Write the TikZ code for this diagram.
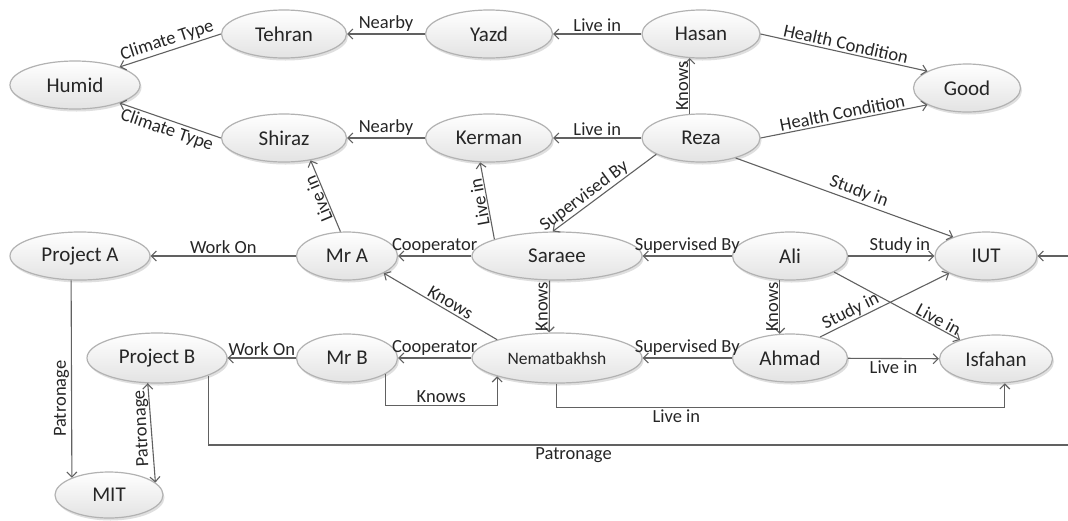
\documentclass[tikz,border=0pt]{standalone}
\usepackage{fontspec}
\setmainfont{Carlito}
\usetikzlibrary{calc,shapes.geometric,shadows,arrows.meta}

\begin{document}
\begin{tikzpicture}[x=1pt,y=-1pt,>={Straight Barb[length=5pt,width=10pt]},
                ent node/.style={ellipse,draw=gray!60,line width=1.2pt,top color=white,bottom color=gray!22,
                  drop shadow={shadow xshift=1.5pt,shadow yshift=-2.5pt,opacity=0.25},
                  text=black!85,font=\fontsize{21}{24}\selectfont,inner sep=0pt,minimum height=48pt},
                link/.style={->,draw=black!62,line width=1.1pt},
                lab/.style={font=\fontsize{18.5}{21}\selectfont,text=black!85,inner sep=2pt}]
	\clip (0,0) rectangle (1068,520);
	\fill[white] (0,0) rectangle (1068,520);

	\node[ent node,minimum width=130pt] (1) at (75,85) {Humid};
	\node[ent node,minimum width=125pt] (2) at (284,34) {Tehran};
	\node[ent node,minimum width=127pt] (3) at (489,34) {Yazd};
	\node[ent node,minimum width=118pt] (4) at (701,34) {Hasan};
	\node[ent node,minimum width=107pt] (5) at (967,88) {Good};
	\node[ent node,minimum width=125pt] (6) at (284,138) {Shiraz};
	\node[ent node,minimum width=127pt] (7) at (489,138) {Kerman};
	\node[ent node,minimum width=118pt] (8) at (701,138) {Reza};
	\node[ent node,minimum width=140pt] (9) at (80,256) {Project A};
	\node[ent node,minimum width=101pt] (10) at (347,256) {Mr A};
	\node[ent node,minimum width=170pt] (11) at (557,256) {Saraee};
	\node[ent node,minimum width=115pt] (12) at (790,256) {Ali};
	\node[ent node,minimum width=102pt] (13) at (986,256) {IUT};
	\node[ent node,minimum width=140pt,minimum height=50pt] (14) at (157,358) {Project B};
	\node[ent node,minimum width=101pt] (15) at (347,358) {Mr B};
	\node[ent node,minimum width=170pt,minimum height=50pt,font=\fontsize{17.5}{20}\selectfont] (16) at (557,358) {Nematbakhsh};
	\node[ent node,minimum width=115pt] (17) at (790,358) {Ahmad};
	\node[ent node,minimum width=113pt] (18) at (996,359) {Isfahan};
	\node[ent node,minimum width=108pt,minimum height=46pt] (19) at (109,495) {MIT};

	\path[link,every node/.style={lab}]
	(2.west) edge node[sloped,above] {Climate Type} (1.22)
	(6.west) edge node[sloped,below] {Climate Type} (1.338)
	(3) edge node[above] {Nearby} (2)
	(7) edge node[above] {Nearby} (6)
	(4) edge node[above] {Live in} (3)
	(8) edge node[above] {Live in} (7)
	(4.east) edge node[sloped,above] {Health Condition} (5.157)
	(8.east) edge node[sloped,above] {Health Condition} (5.203)
	(8.115) edge node[sloped,above,inner sep=1pt] {Knows} (4.245)
	(8.200) edge node[pos=0.64,sloped,above,inner sep=1pt] {Supervised By} (11.100)
	(8.330) edge node[pos=0.55,sloped,above] {Study in} (13.150)
	(10.105) edge node[sloped,allow upside down,above,inner sep=1pt] {Live in} (6.320)
	(11.165) edge node[sloped,allow upside down,above,inner sep=1pt] {Live in} (7.250)
	(10) edge node[above] {Work On} (9)
	(11) edge node[above] {Cooperator} (10)
	(12) edge node[above] {Supervised By} (11)
	(12) edge node[pos=0.6,above] {Study in} (13)
	(12.340) edge node[pos=0.8,sloped,above,inner sep=1pt] {Live in} (18.152)
	(12.247) edge node[rotate=90,above,inner sep=1pt] {Knows} (17.113)
	(17.35) edge node[pos=0.27,sloped,above,inner sep=1pt] {Study in} (13.205)
	(17) edge node[below] {Live in} (18)
	(11.253) edge node[rotate=90,above,inner sep=1pt] {Knows} (16.107)
	(16.163) edge node[pos=0.45,sloped,above] {Knows} (10.335)
	(16) edge node[above] {Cooperator} (15)
	(17) edge node[above] {Supervised By} (16)
	(15) edge node[above] {Work On} (14)
	(9.250) edge node[pos=0.6,rotate=90,above] {Patronage} (19.155)
	(14.250) edge node[pos=0.45,rotate=93,above,inner sep=1pt] {Patronage} (19.15);

	\coordinate (c) at (1095,445);
	\draw[link] (15.337) -- ++(0,31) -| node[lab,pos=0.25,above] {Knows} (16.197);
	\draw[link] (16.268) -- ++(0,24) -| node[lab,pos=0.134,below] {Live in} (18.290);
	\draw[link] (14.341) |- node[lab,pos=0.706,below] {Patronage} (c) |- (13.east);

\end{tikzpicture}
\end{document}
